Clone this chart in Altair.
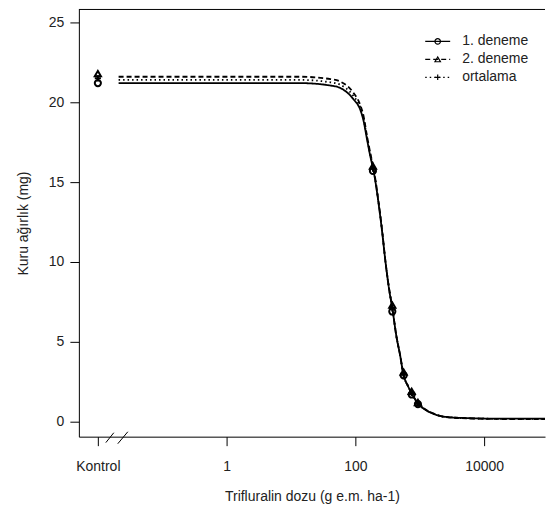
import altair as alt
import pandas as pd

series = ["1. deneme", "2. deneme", "ortalama"]
dashes = [[1, 0], [5, 3], [1.5, 3]]
shapes = ["circle", "triangle-up", "M-1,0H1M0,-1V1"]

# fitted curves
curve_dose = [0.021, 14, 41, 58, 93, 120, 133, 153, 171, 190, 227, 262, 292, 337, 375,
              432, 499, 555, 664, 766, 948, 1217, 1618, 2483, 6068, 17700, 88300]
curve_1 = [21.2, 21.2, 21.05, 20.9, 20.2, 19.5, 18.9, 17.6, 16.6, 15.8, 13.8, 11.8, 10.1,
           8.2, 7.1, 5.4, 4.1, 3.0, 2.2, 1.7, 1.12, 0.75, 0.5, 0.3, 0.22, 0.19, 0.19]
curve_2 = [21.6, 21.6, 21.45, 21.3, 20.6, 19.8, 19.2, 17.8, 16.8, 15.95, 13.9, 11.9, 10.1,
           8.25, 7.15, 5.4, 4.1, 3.0, 2.2, 1.7, 1.15, 0.78, 0.52, 0.3, 0.2, 0.17, 0.17]
curve_3 = [21.4, 21.4, 21.25, 21.1, 20.4, 19.65, 19.05, 17.7, 16.7, 15.87, 13.85, 11.85, 10.1,
           8.22, 7.12, 5.4, 4.1, 3.0, 2.2, 1.7, 1.13, 0.76, 0.51, 0.3, 0.21, 0.18, 0.18]

# observed means (Kontrol plotted at 0.01)
obs_dose = [0.01, 187.5, 375, 562.5, 750, 937.5]
obs_1 = [21.2, 15.7, 6.9, 2.9, 1.7, 1.1]
obs_2 = [21.8, 16.0, 7.3, 3.1, 1.9, 1.2]
obs_3 = [21.5, 15.85, 7.1, 3.0, 1.8, 1.15]

x_ticks = [0.01, 1, 100, 10000]
y_ticks = [0, 5, 10, 15, 20, 25]
x_domain = [0.00507, 88300]
y_domain = [-0.9375, 25.8125]

# axis-break slashes (dose, value)
brk_x = [0.0133, 0.0204]
brk_x2 = [0.0177, 0.0292]
brk_y = [-1.31, -1.38]
brk_y2 = [-0.69, -0.63]

W, H = 467, 428
FONT = "Liberation Sans"
TXT = "#222222"

curves = pd.DataFrame(
    [{"dose": d, "y": v, "s": s}
     for s, vals in zip(series, [curve_1, curve_2, curve_3])
     for d, v in zip(curve_dose, vals)]
)
obs = pd.DataFrame(
    [{"dose": d, "y": v, "s": s}
     for s, vals in zip(series, [obs_1, obs_2, obs_3])
     for d, v in zip(obs_dose, vals)]
)
brk = pd.DataFrame({"x": brk_x, "x2": brk_x2, "y": brk_y, "y2": brk_y2})

xs = alt.Scale(type="log", domain=x_domain, nice=False)
ys = alt.Scale(domain=y_domain, nice=False, zero=False)

label_expr = "datum.value < 0.1 ? 'Kontrol' : format(datum.value, 'd')"

X = alt.X("dose:Q", scale=xs,
          axis=alt.Axis(values=x_ticks, labelExpr=label_expr, title="Trifluralin dozu (g e.m. ha-1)",
                        grid=False, tickSize=9, labelPadding=14, titlePadding=16,
                        domainColor="black", tickColor="black"))
Y = alt.Y("y:Q", scale=ys,
          axis=alt.Axis(values=y_ticks, title="Kuru ağırlık (mg)", grid=False, tickSize=9,
                        labelPadding=6, titlePadding=18, domainColor="black", tickColor="black"))

lines = alt.Chart(curves).mark_line(color="black", strokeWidth=1.8, interpolate="monotone", clip=True).encode(
    x=X, y=Y,
    strokeDash=alt.StrokeDash("s:N", scale=alt.Scale(domain=series, range=dashes), legend=None),
    detail="s:N",
)
pts = alt.Chart(obs).mark_point(color="black", filled=False, strokeWidth=2, size=38, opacity=1).encode(
    x=alt.X("dose:Q", scale=xs), y=alt.Y("y:Q", scale=ys),
    shape=alt.Shape("s:N", scale=alt.Scale(domain=series, range=shapes), legend=None),
)
slashes = alt.Chart(brk).mark_rule(color="black", strokeWidth=1).encode(
    x=alt.X("x:Q", scale=xs), x2="x2:Q", y=alt.Y("y:Q", scale=ys), y2="y2:Q"
)
top = alt.Chart(pd.DataFrame({"a": [0]})).mark_rule(color="black", strokeWidth=1).encode(
    x=alt.value(0), x2=alt.value(W), y=alt.value(0)
)

legend_layers = []
for i, s in enumerate(series):
    yy = 32 + 18 * i
    one = pd.DataFrame({"s": [s]})
    legend_layers.append(alt.Chart(one).mark_rule(color="black", strokeWidth=1.2, strokeDash=dashes[i]).encode(
        x=alt.value(347), x2=alt.value(372), y=alt.value(yy)))
    legend_layers.append(alt.Chart(one).mark_point(color="black", filled=False, strokeWidth=1.2, size=30,
                                                   shape=shapes[i], opacity=1).encode(
        x=alt.value(359.5), y=alt.value(yy)))
    legend_layers.append(alt.Chart(one).mark_text(align="left", baseline="middle", font=FONT, fontSize=14,
                                                  color=TXT).encode(
        x=alt.value(384), y=alt.value(yy), text="s:N"))

chart = alt.layer(lines, pts, slashes, top, *legend_layers).properties(
    width=W, height=H, padding={"left": 8, "top": 0, "right": 0, "bottom": 0}
).configure_view(stroke=None).configure_axis(
    labelFont=FONT, titleFont=FONT, labelFontSize=14, titleFontSize=14, labelColor=TXT,
    titleColor=TXT, titleFontWeight="normal", domainWidth=1, tickWidth=1
)

chart.save("out.html", embed_options={"renderer": "svg", "actions": False})
